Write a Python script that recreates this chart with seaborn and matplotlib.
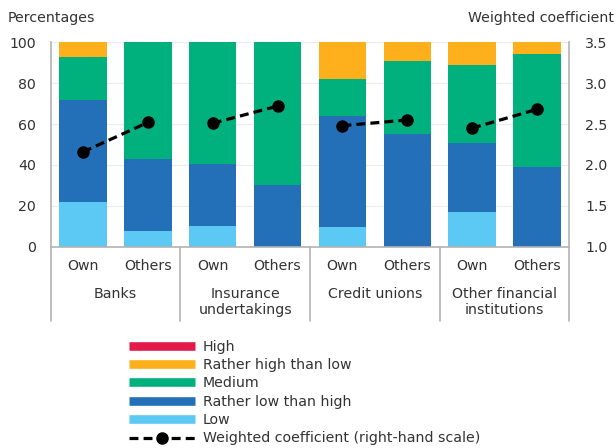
import matplotlib
matplotlib.use("Agg")
import matplotlib.pyplot as plt
from matplotlib.lines import Line2D
from matplotlib.transforms import blended_transform_factory
import numpy as np
import pandas as pd
import seaborn as sns

# ---- data ---------------------------------------------------------------
groups = ["Banks", "Insurance\nundertakings", "Credit unions",
          "Other financial\ninstitutions"]
sub_labels = ["Own", "Others"]

# shares of respondents (percentages), one value per bar:
# Banks Own, Banks Others, Insurance Own, Insurance Others,
# Credit Own, Credit Others, OFI Own, OFI Others
high = [0, 0, 0, 0, 0, 0, 0, 0]
rather_high = [7, 0, 0, 0, 18, 9, 11, 5.5]
medium = [21, 57, 59.5, 70, 18, 36, 38.5, 55.5]
rather_low = [50, 35.5, 30.5, 30, 54.5, 55, 33.5, 39]
low = [22, 7.5, 10, 0, 9.5, 0, 17, 0]

# weighted coefficient (right-hand scale)
weighted = [2.16, 2.52, 2.51, 2.72, 2.48, 2.55, 2.45, 2.68]

layer_names = ["High", "Rather high than low", "Medium",
               "Rather low than high", "Low"]
layer_values = [high, rather_high, medium, rather_low, low]
layer_colors = ["#e31b4b", "#fdaf1c", "#00b07d", "#2370b8", "#5cc8f4"]

# ---- style --------------------------------------------------------------
sns.set_theme(style="white")
plt.rcParams["font.family"] = ["DejaVu Sans"]
FS = 10.2
TXT = "#333333"
SPINE = "#b3b3b3"

W, H = 616, 448
fig = plt.figure(figsize=(W / 100, H / 100), dpi=100)
x0, x1, yb, yt = 50.7, 569.3, 246.7, 42.3
ax = fig.add_axes([x0 / W, 1 - yb / H, (x1 - x0) / W, (yb - yt) / H])

# ---- stacked bars (cumulative totals drawn back to front) --------------
keys = [f"{g}|{s}" for g in groups for s in sub_labels]
df = pd.DataFrame({"key": keys})
cum = np.zeros(len(keys))
cums = []
for vals in reversed(layer_values):  # Low first
    cum = cum + np.array(vals, dtype=float)
    cums.append(cum.copy())
cums = cums[::-1]  # aligned with layer_names (High = full total)

for name, color, tot in zip(layer_names, layer_colors, cums):
    df["total"] = tot
    sns.barplot(data=df, x="key", y="total", order=keys, color=color,
                saturation=1, width=0.73, errorbar=None, linewidth=0,
                ax=ax)

ax.set_xlim(-0.5, len(keys) - 0.5)
ax.set_ylim(0, 100)
ax.set_yticks(np.arange(0, 101, 20))
ax.set_xlabel("")
ax.set_ylabel("")
ax.yaxis.grid(True, color="#ececec", linewidth=0.8)
ax.set_axisbelow(True)
ax.set_xticks(range(len(keys)))
ax.set_xticklabels([s for _ in groups for s in sub_labels])
ax.tick_params(axis="x", length=0, pad=9, labelsize=FS, labelcolor=TXT)
ax.tick_params(axis="y", length=0, pad=10.5, labelsize=FS, labelcolor=TXT)
for side in ["top", "right"]:
    ax.spines[side].set_visible(False)
for side in ["left", "bottom"]:
    ax.spines[side].set_color(SPINE)
    ax.spines[side].set_linewidth(1.2)

# group labels and separators below the axis
trans = blended_transform_factory(ax.transData, ax.transAxes)
axh = yb - yt
for i, g in enumerate(groups):
    ax.text(2 * i + 0.5, (yb - 287) / axh, g, transform=trans, ha="center",
            va="top", fontsize=FS, color=TXT, linespacing=1.15)
for b in np.arange(-0.5, len(keys), 2):
    ax.plot([b, b], [0, (yb - 321) / axh], transform=trans, color=SPINE,
            lw=1.2, clip_on=False)

# ---- weighted coefficient on the right-hand scale -----------------------
ax2 = ax.twinx()
ax2.set_ylim(1.0, 3.5)
ax2.set_yticks(np.arange(1.0, 3.51, 0.5))
ax2.set_yticklabels([f"{v:.1f}" for v in np.arange(1.0, 3.51, 0.5)])
ax2.tick_params(axis="y", length=0, pad=11.3, labelsize=FS, labelcolor=TXT)
ax2.grid(False)
for side in ["top", "left", "bottom"]:
    ax2.spines[side].set_visible(False)
ax2.spines["right"].set_color(SPINE)
ax2.spines["right"].set_linewidth(1.2)

line_kw = dict(color="black", lw=2.3, dashes=(2.8, 1.6), marker="o",
               markersize=8, dash_capstyle="butt")
for i in range(len(groups)):
    xs = [2 * i, 2 * i + 1]
    ax2.plot(xs, weighted[2 * i:2 * i + 2], **line_kw)

# ---- axis titles --------------------------------------------------------
fig.text(8 / W, 1 - 18 / H, "Percentages", fontsize=FS, color=TXT,
         ha="left", va="center")
fig.text(614 / W, 1 - 18 / H, "Weighted coefficient", fontsize=FS,
         color=TXT, ha="right", va="center")

# ---- legend -------------------------------------------------------------
handles = [Line2D([], [], color=c, lw=6.2, solid_capstyle="butt")
           for c in layer_colors]
handles.append(Line2D([], [], **line_kw))
labels = layer_names + ["Weighted coefficient (right-hand scale)"]
fig.legend(handles, labels, loc="upper left",
           bbox_to_anchor=(129 / W, 1 - 339.5 / H), frameon=False,
           fontsize=FS, labelcolor=TXT, handlelength=4.65,
           handletextpad=0.56, labelspacing=0.31, borderaxespad=0,
           borderpad=0)

fig.savefig("out.png", dpi=100)
